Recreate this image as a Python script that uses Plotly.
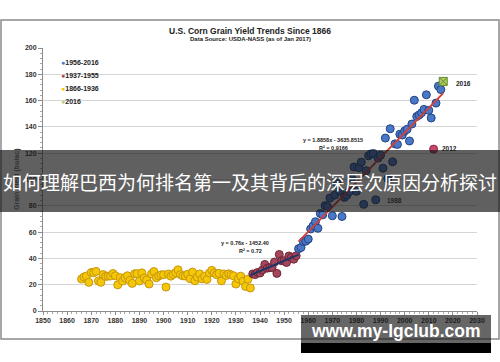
import numpy as np
import plotly.graph_objects as go

# ---------------- data ----------------
YEARS_1866_1936 = list(range(1866, 1937))
YIELD_1866_1936 = [24.3, 25.9, 26.6, 21.8, 29.3, 29.1, 30.1, 22.9, 21.8, 27.7,
                   26.3, 26.5, 26.6, 28.5, 26.8, 19.9, 25.4, 22.8, 25.3, 26.8,
                   23.3, 21.0, 28.3, 28.4, 22.8, 29.0, 25.0, 23.6, 20.5, 28.2,
                   30.0, 25.3, 26.7, 27.5, 27.6, 18.2, 28.1, 26.5, 27.8, 29.2,
                   31.3, 27.7, 26.7, 26.6, 28.0, 24.6, 29.6, 23.0, 25.8, 28.2,
                   24.4, 26.3, 24.0, 28.9, 30.9, 28.9, 27.6, 28.6, 22.9, 28.2,
                   27.0, 28.3, 27.5, 26.8, 20.5, 24.5, 26.5, 22.6, 18.7, 24.2,
                   17.5]
YEARS_1937_1955 = list(range(1937, 1956))
YIELD_1937_1955 = [28.2, 27.7, 29.3, 28.9, 31.2, 35.4, 32.6, 33.0, 33.1, 37.2,
                   28.6, 43.0, 38.2, 38.2, 36.9, 41.8, 40.7, 39.4, 42.0]
YEARS_1956_2016 = list(range(1956, 2017))
YIELD_1956_2016 = [47.4, 48.3, 52.8, 53.1, 54.7, 62.4, 64.7, 67.9, 62.9, 74.1,
                   73.1, 80.1, 79.5, 85.9, 72.4, 88.1, 97.0, 91.3, 71.9, 86.4,
                   88.0, 90.8, 101.0, 109.5, 91.0, 108.9, 113.2, 81.1, 106.7, 118.0,
                   119.4, 119.8, 84.6, 116.3, 118.5, 108.6, 131.5, 100.7, 138.6, 113.5,
                   127.1, 126.7, 134.4, 133.8, 136.9, 138.2, 129.3, 142.2, 160.3, 147.9,
                   149.1, 150.7, 153.3, 164.4, 152.6, 146.8, 123.1, 158.1, 171.0, 168.4,
                   174.6]
HIGHLIGHT_2012 = (2012, 123.1)
HIGHLIGHT_2016 = (2016, 174.6)
X_TICKS = list(range(1850, 2031, 10))
Y_TICKS = list(range(0, 201, 20))
LEGEND_LABELS = ["1956-2016", "1937-1955", "1866-1936", "2016"]
EQ_BLUE = ["y = 1.8858x - 3635.8515", "R² = 0.9166"]
EQ_RED = ["y = 0.76x - 1452.40", "R² = 0.72"]

# blue series excluding the highlighted 2012 and 2016 points
blue_x = [y for y in YEARS_1956_2016 if y not in (2012, 2016)]
blue_y = [v for y, v in zip(YEARS_1956_2016, YIELD_1956_2016) if y not in (2012, 2016)]

# trend lines
cb = np.polyfit(YEARS_1956_2016, YIELD_1956_2016, 1)
cr = np.polyfit(YEARS_1937_1955, YIELD_1937_1955, 1)
tb_x = [YEARS_1956_2016[0], YEARS_1956_2016[-1]]
tr_x = [YEARS_1937_1955[0] - 1, YEARS_1937_1955[-1] + 1]

# ---------------- layout geometry ----------------
FW, FH = 500, 362
L, R, T, B = 43, 477, 48, 311
PW, PH = R - L, B - T


def px(x):
    return (x - L) / PW


def py(y):
    return (B - y) / PH


FONT = "Arial, Liberation Sans, sans-serif"
YEL, YEL_L = "#f4c807", "#c89610"
RED, RED_L = "#a5475c", "#6e2535"
BLU, BLU_L = "#4a78c9", "#23437e"
MS = 8

fig = go.Figure()

fig.add_trace(go.Scatter(x=YEARS_1866_1936, y=YIELD_1866_1936, mode="markers",
                         marker=dict(size=MS, color=YEL, line=dict(color=YEL_L, width=1)),
                         showlegend=False))
fig.add_trace(go.Scatter(x=YEARS_1937_1955, y=YIELD_1937_1955, mode="markers",
                         marker=dict(size=MS, color=RED, line=dict(color=RED_L, width=1)),
                         showlegend=False))
fig.add_trace(go.Scatter(x=blue_x, y=blue_y, mode="markers",
                         marker=dict(size=MS, color=BLU, line=dict(color=BLU_L, width=1)),
                         showlegend=False))
fig.add_trace(go.Scatter(x=[HIGHLIGHT_2012[0]], y=[HIGHLIGHT_2012[1]], mode="markers",
                         marker=dict(size=MS, color="#c8466a", line=dict(color="#8a2a45", width=1)),
                         showlegend=False))
fig.add_trace(go.Scatter(x=[HIGHLIGHT_2016[0]], y=[HIGHLIGHT_2016[1]], mode="markers",
                         marker=dict(size=MS, symbol="square-x", color="#a8cc5a",
                                     line=dict(color="#6b8a30", width=1)),
                         showlegend=False))
fig.add_trace(go.Scatter(x=tb_x, y=np.polyval(cb, tb_x), mode="lines",
                         line=dict(color="#d0403c", width=2), showlegend=False))
fig.add_trace(go.Scatter(x=tr_x, y=np.polyval(cr, tr_x), mode="lines",
                         line=dict(color="#1f3566", width=2), showlegend=False))

ann = []


def A(text, x, y, size, color="#222", bold=True, family=FONT, xanchor="center", textangle=0):
    ann.append(dict(text=text, x=px(x), y=py(y), xref="paper", yref="paper",
                    showarrow=False, xanchor=xanchor, yanchor="middle", textangle=textangle,
                    font=dict(family=family, size=size, color=color,
                              weight="bold" if bold else "normal")))


A("U.S. Corn Grain Yield Trends Since 1866", 250, 31, 8.5)
A("Data Source: USDA-NASS (as of Jan 2017)", 250, 39.5, 6)
A("Grain Yield (bu/ac)", 17, 180, 7, color="#333", textangle=-90)
A(EQ_BLUE[0], 333, 140, 5.5)
A(EQ_BLUE[1], 333, 148, 5.5)
A(EQ_RED[0], 245, 243, 5.5)
A(EQ_RED[1], 250, 251, 5.5)
A("2016", 454, 84, 6.5, xanchor="left")
A("2012", 440, 148, 6.5, xanchor="left")
A("1988", 385, 200, 6.5, xanchor="left")

leg_colors = [BLU, RED, YEL, "#b7cf85"]
for i, (lab, col) in enumerate(zip(LEGEND_LABELS, leg_colors)):
    A(f"<span style='color:{col}'>●</span>{lab}", 59, 62 + i * 13.2, 7, xanchor="left")

# banner and watermark text
A("如何理解巴西为何排名第一及其背后的深层次原因分析探讨", 250, 181, 19, color="white",
  family="Noto Sans CJK SC", bold=False)
A("www.my-lgclub.com", 396, 331, 17.5, color="white", family=FONT)

shapes = [
    dict(type="rect", xref="paper", yref="paper", x0=px(1), x1=px(499), y0=py(20), y1=py(339),
         line=dict(color="#8a8a8a", width=1.5), fillcolor="rgba(0,0,0,0)", layer="below"),
    dict(type="rect", xref="paper", yref="paper", x0=px(44), x1=px(110), y0=py(54), y1=py(108),
         line=dict(width=0), fillcolor="white", layer="between"),
    dict(type="rect", xref="paper", yref="paper", x0=px(0), x1=px(500), y0=py(150), y1=py(212),
         line=dict(width=0), fillcolor="rgba(20,20,20,0.68)", layer="above"),
    dict(type="rect", xref="paper", yref="paper", x0=px(301), x1=px(491), y0=py(315), y1=py(343),
         line=dict(width=0), fillcolor="rgba(20,20,20,0.65)", layer="above"),
    dict(type="rect", xref="paper", yref="paper", x0=px(301), x1=px(491), y0=py(343), y1=py(353),
         line=dict(width=0), fillcolor="black", layer="above"),
]

fig.update_layout(
    width=FW, height=FH, autosize=False,
    margin=dict(l=L, r=FW - R, t=T, b=FH - B, pad=0),
    paper_bgcolor="white", plot_bgcolor="white",
    showlegend=False,
    xaxis=dict(range=[1850, 2030], tickvals=X_TICKS, showgrid=False, zeroline=False,
               automargin=False,
               showline=True, linecolor="#8c8c8c", linewidth=1,
               ticks="outside", ticklen=3, tickcolor="#8c8c8c",
               tickfont=dict(family=FONT, size=7, color="#333", weight="bold"),
               minor=dict(ticks="outside", ticklen=2, dtick=2, tickcolor="#aaa", showgrid=False)),
    yaxis=dict(range=[0, 200], tickvals=Y_TICKS, showgrid=True, gridcolor="#d6d6d6",
               gridwidth=1, zeroline=False, automargin=False,
               showline=True, linecolor="#8c8c8c", linewidth=1,
               ticks="outside", ticklen=4, tickcolor="#8c8c8c",
               tickfont=dict(family=FONT, size=7, color="#333", weight="bold"),
               minor=dict(ticks="outside", ticklen=2, dtick=4, tickcolor="#aaa", showgrid=False)),
    annotations=ann,
    shapes=shapes,
)

fig.write_html("out.html", config={"displayModeBar": False},
               post_script="document.body.style.margin='0';")
